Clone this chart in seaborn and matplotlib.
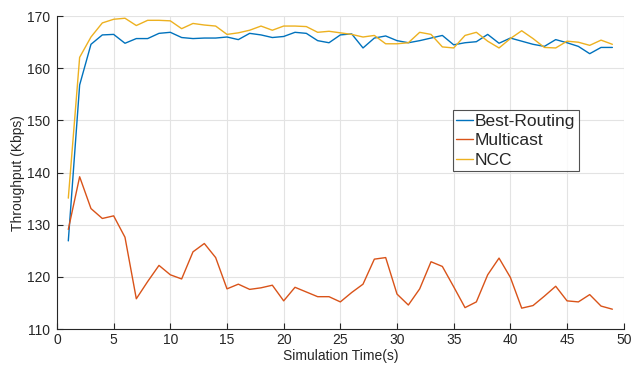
import numpy as np
import pandas as pd
import matplotlib
matplotlib.use("Agg")
import matplotlib.pyplot as plt
import seaborn as sns

# simulation time steps
time_s = list(range(1, 50))

best_routing = [126.9, 156.8, 164.6, 166.4, 166.5, 164.8, 165.7, 165.7, 166.7, 166.9,
                165.9, 165.7, 165.8, 165.8, 166.0, 165.5, 166.7, 166.4, 165.9, 166.1,
                166.9, 166.7, 165.3, 164.9, 166.4, 166.6, 163.9, 165.8, 166.2, 165.3,
                164.9, 165.3, 165.8, 166.3, 164.5, 164.9, 165.1, 166.5, 164.8, 165.8,
                165.2, 164.6, 164.2, 165.5, 164.9, 164.2, 162.8, 164.0, 164.0]

multicast = [129.1, 139.2, 133.1, 131.2, 131.7, 127.6, 115.8, 119.1, 122.2, 120.4,
             119.6, 124.8, 126.4, 123.7, 117.7, 118.6, 117.6, 117.9, 118.4, 115.4,
             118.0, 117.1, 116.2, 116.2, 115.2, 117.0, 118.6, 123.4, 123.7, 116.7,
             114.6, 117.7, 122.9, 122.0, 118.1, 114.1, 115.2, 120.4, 123.6, 119.9,
             114.0, 114.5, 116.3, 118.2, 115.4, 115.2, 116.6, 114.4, 113.8]

ncc = [135.1, 162.1, 166.0, 168.7, 169.4, 169.6, 168.2, 169.2, 169.2, 169.1,
       167.6, 168.6, 168.3, 168.1, 166.5, 166.8, 167.3, 168.1, 167.3, 168.1,
       168.1, 168.0, 166.9, 167.1, 166.8, 166.5, 166.0, 166.3, 164.7, 164.7,
       164.9, 166.9, 166.5, 164.1, 163.9, 166.3, 166.9, 165.2, 163.9, 165.7,
       167.2, 165.7, 164.0, 163.9, 165.2, 165.0, 164.4, 165.4, 164.6]

series_names = ["Best-Routing", "Multicast", "NCC"]
colors = ["#0072BD", "#D95319", "#EDB120"]

df = pd.DataFrame({
    "time": time_s * 3,
    "value": best_routing + multicast + ncc,
    "series": [series_names[0]] * 49 + [series_names[1]] * 49 + [series_names[2]] * 49,
})

sns.set_style("white")
plt.rcParams["font.family"] = ["Liberation Sans", "DejaVu Sans"]

fig, ax = plt.subplots(figsize=(6.43, 3.67), dpi=100)
fig.subplots_adjust(left=0.0886, right=0.970, top=0.956, bottom=0.1035)

sns.lineplot(data=df, x="time", y="value", hue="series", hue_order=series_names,
             palette=colors, linewidth=1.0, ax=ax)

ax.set_xlim(0, 50)
ax.set_ylim(110, 170)
ax.set_xticks(range(0, 51, 5))
ax.set_yticks(range(110, 171, 10))
ax.grid(True, color="#e3e3e3", linewidth=0.8)
ax.set_axisbelow(True)
for s in ["top", "right"]:
    ax.spines[s].set_visible(False)
for s in ["left", "bottom"]:
    ax.spines[s].set_color("#262626")
    ax.spines[s].set_linewidth(0.8)
ax.tick_params(direction="in", length=4, width=0.8, colors="#262626", labelsize=10,
               left=True, bottom=True, pad=3)
ax.tick_params(axis="y", pad=5)
ax.set_xlabel("Simulation Time(s)", fontsize=10, color="#262626", labelpad=1)
ax.set_ylabel("Throughput (Kbps)", fontsize=10, color="#262626", labelpad=1)

leg = ax.legend(loc="upper left", bbox_to_anchor=(0.698, 0.70), fontsize=12.5,
                frameon=True, fancybox=False, handlelength=0.95, handletextpad=0.15,
                borderpad=0.2, labelspacing=0.25, borderaxespad=0)
leg.get_frame().set_edgecolor("#262626")
leg.get_frame().set_linewidth(0.8)

fig.savefig("out.png", dpi=100)
